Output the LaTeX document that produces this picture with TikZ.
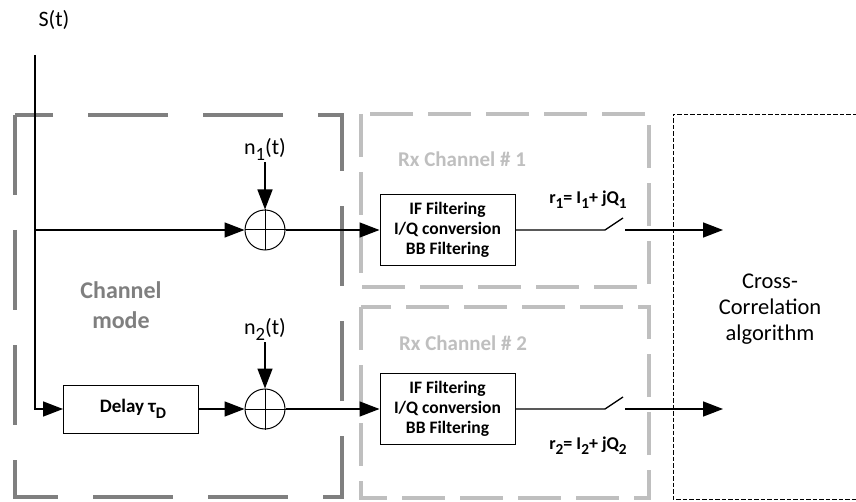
\documentclass[tikz,border=0pt]{standalone}
\usepackage{fontspec}
\setmainfont{Carlito}
\usetikzlibrary{arrows.meta, positioning, calc}
\definecolor{chgray}{HTML}{7F7F7F}
\definecolor{rxgray}{HTML}{BFBFBF}
\newcommand{\lowsub}[1]{\raisebox{-0.6ex}{\scalebox{0.85}{#1}}}

\begin{document}
\begin{tikzpicture}[
  x=1pt, y=-1pt,
  every node/.style={font=\fontsize{22}{26}\selectfont},
  block/.style={draw, line width=1pt, minimum width=135pt, minimum height=71pt,
                align=center, inner sep=0pt, font=\bfseries\fontsize{17.5}{20}\selectfont},
  delaybox/.style={block, minimum height=48pt, font=\bfseries\fontsize{19}{20}\selectfont},
  adder/.style={draw, circle, line width=1pt, minimum size=40pt, inner sep=0pt},
  arrow/.style={-{Triangle[length=20pt, width=15pt]}, line width=1.5pt},
  wire/.style={line width=1.3pt},
  chanbox/.style={draw=chgray, line width=4pt, dash pattern=on 80pt off 35pt},
  rxbox/.style={draw=rxgray, line width=4pt, dash pattern=on 43pt off 15pt},
  corrbox/.style={draw, line width=0.8pt, dash pattern=on 4.5pt off 2pt},
  boxlabel/.style={font=\bfseries\fontsize{21}{24}\selectfont, text=rxgray},
  sumlabel/.style={font=\bfseries\fontsize{18}{22}\selectfont}
]
\useasboundingbox (0,0) rectangle (856,502);

% dashed groups
\draw[chanbox] (15,115) -- (15,497) -- (342,497) -- (342,115) -- cycle;
\draw[rxbox] (361,114) rectangle (649,287);
\draw[rxbox] (361,307) rectangle (649,498);
\draw[corrbox] (870,114) -| (673,499) -- (870,499);

% labels
\node (sig) at (54,20) {S(t)};
\node[font=\bfseries\fontsize{24}{30}\selectfont, text=chgray, align=center] (chmode) at (121,305) {Channel\\mode};
\node[boxlabel] (rx1lbl) at (462,159) {Rx Channel \# 1};
\node[boxlabel] (rx2lbl) at (463,343) {Rx Channel \# 2};
\node[align=center, font=\fontsize{22.5}{26}\selectfont] (xcorr) at (770,309) {Cross-\\Correlation\\algorithm};

% blocks
\node[adder] (add1) at (265,230) {};
\node[adder] (add2) at (265,409) {};
\draw[line width=1pt] (add1.north) -- (add1.south) (add1.west) -- (add1.east);
\draw[line width=1pt] (add2.north) -- (add2.south) (add2.west) -- (add2.east);
\node[delaybox] (dly) at (131,409) {\hspace*{4pt}Delay τ\lowsub{D}};
\node[block] (if1) at (447.5,230) {IF Filtering\\I/Q conversion\\BB Filtering};
\node[block] (if2) at (447.5,409) {IF Filtering\\I/Q conversion\\BB Filtering};

% noise inputs
\node[anchor=south, inner sep=1pt] (n1) at (265,162) {n\lowsub{1}(t)};
\node[anchor=south, inner sep=1pt] (n2) at (265,342) {n\lowsub{2}(t)};
\draw[arrow] (n1.south) -- (add1.north);
\draw[arrow] (n2.south) -- (add2.north);

% input signal
\coordinate (top) at (35,55);
\coordinate (br1) at (35,230);
\draw[wire] (top) -- (br1);
\draw[arrow] (br1) -- (add1.west);
\draw[arrow] (br1) |- (dly.west);
\draw[arrow] (dly.east) -- (add2.west);
\draw[arrow] (add1.east) -- (if1.west);
\draw[arrow] (add2.east) -- (if2.west);

% sampling switches
\coordinate (sw1a) at (605,230);
\coordinate (sw1b) at (623,218);
\coordinate (sw1c) at (625,230);
\coordinate (out1) at (723,230);
\coordinate (sw2a) at (605,409);
\coordinate (sw2b) at (623,397);
\coordinate (sw2c) at (625,409);
\coordinate (out2) at (723,409);
\draw[wire] (if1.east) -- (sw1a) -- (sw1b);
\draw[arrow] (sw1c) -- (out1);
\draw[wire] (if2.east) -- (sw2a) -- (sw2b);
\draw[arrow] (sw2c) -- (out2);
\node[sumlabel] (r1) at (588,200) {r\lowsub{1}= I\lowsub{1}+ jQ\lowsub{1}};
\node[sumlabel] (r2) at (588,446) {r\lowsub{2}= I\lowsub{2}+ jQ\lowsub{2}};

\end{tikzpicture}
\end{document}
